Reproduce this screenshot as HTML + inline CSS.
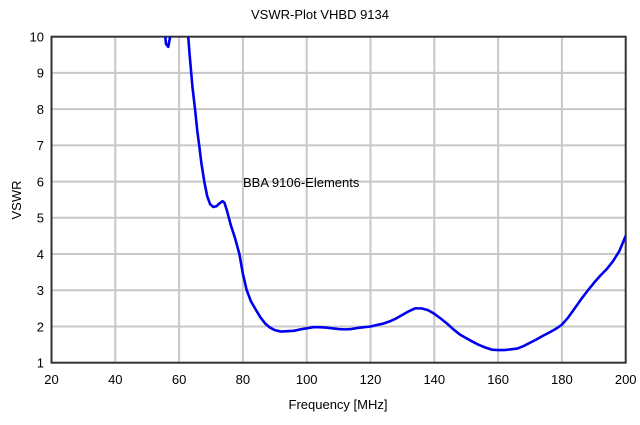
<!DOCTYPE html>
<html><head><meta charset="utf-8"><style>
html,body{margin:0;padding:0;background:#fff;}
svg text{font-family:"Liberation Sans",Arial,sans-serif;fill:#000;}
</style></head><body>
<svg width="640" height="420" viewBox="0 0 640 420" xmlns="http://www.w3.org/2000/svg">
<defs><clipPath id="c"><rect x="51.5" y="36.7" width="574.2" height="326"/></clipPath></defs>
<rect width="640" height="420" fill="#fff"/>
<g stroke="#c8c8c8" stroke-width="2">
<line x1="115.3" y1="36.7" x2="115.3" y2="362.7"/>
<line x1="179.1" y1="36.7" x2="179.1" y2="362.7"/>
<line x1="242.9" y1="36.7" x2="242.9" y2="362.7"/>
<line x1="306.7" y1="36.7" x2="306.7" y2="362.7"/>
<line x1="370.5" y1="36.7" x2="370.5" y2="362.7"/>
<line x1="434.3" y1="36.7" x2="434.3" y2="362.7"/>
<line x1="498.1" y1="36.7" x2="498.1" y2="362.7"/>
<line x1="561.9" y1="36.7" x2="561.9" y2="362.7"/>
<line x1="51.5" y1="72.9" x2="625.7" y2="72.9"/>
<line x1="51.5" y1="109.1" x2="625.7" y2="109.1"/>
<line x1="51.5" y1="145.4" x2="625.7" y2="145.4"/>
<line x1="51.5" y1="181.6" x2="625.7" y2="181.6"/>
<line x1="51.5" y1="217.8" x2="625.7" y2="217.8"/>
<line x1="51.5" y1="254.0" x2="625.7" y2="254.0"/>
<line x1="51.5" y1="290.3" x2="625.7" y2="290.3"/>
<line x1="51.5" y1="326.5" x2="625.7" y2="326.5"/>
</g>
<rect x="51.5" y="36.7" width="574.2" height="326" fill="none" stroke="#333" stroke-width="2"/>
<g clip-path="url(#c)">
<g transform="matrix(3.19 0 0 -36.22 -12.3 398.92)" fill="none" stroke="#0000ee" stroke-width="2.6" stroke-linejoin="round" stroke-linecap="round">
<polyline vector-effect="non-scaling-stroke" points="55.3,10.3 55.9,9.8 56.6,9.72 57.4,10.1 57.7,10.3"/>
<polyline vector-effect="non-scaling-stroke" points="62.6,10.3 63.3,9.5 64.2,8.6 65,8 65.7,7.4 66.3,7 67,6.5 67.9,6 68.8,5.6 69.7,5.38 70.7,5.3 71.7,5.32 72.7,5.4 73.6,5.46 74.2,5.42 75,5.2 76.2,4.8 77.5,4.45 78.9,4.0 80,3.45 81.2,3.0 82.5,2.7 83.8,2.5 85.5,2.25 87,2.08 88.5,1.97 90,1.9 92,1.86 94,1.87 96,1.88 98,1.92 100,1.95 102,1.98 104,1.98 106,1.97 108,1.95 110,1.93 112,1.92 114,1.93 116,1.96 118,1.98 120,2.0 122,2.04 124,2.08 126,2.14 128,2.22 130,2.32 132,2.42 134,2.5 136,2.5 138,2.45 140,2.35 142,2.22 144,2.08 146,1.92 148,1.78 150,1.68 152,1.58 154,1.49 156,1.42 158,1.36 160,1.35 162,1.35 164,1.37 166,1.39 168,1.46 170,1.55 172,1.64 174,1.74 176,1.83 178,1.93 180,2.05 182,2.25 184,2.5 186,2.75 188,2.98 190,3.2 192,3.4 194,3.58 196,3.8 198,4.08 200,4.5"/>
</g></g>
<text x="320" y="19" font-size="13" text-anchor="middle">VSWR-Plot VHBD 9134</text>
<g font-size="13" text-anchor="end">
<text x="44" y="41.5">10</text><text x="44" y="77.7">9</text><text x="44" y="113.9">8</text>
<text x="44" y="150.2">7</text><text x="44" y="186.4">6</text><text x="44" y="222.6">5</text>
<text x="44" y="258.8">4</text><text x="44" y="295.1">3</text><text x="44" y="331.3">2</text><text x="44" y="367.5">1</text>
</g>
<g font-size="13" text-anchor="middle">
<text x="51.5" y="384">20</text><text x="115.3" y="384">40</text><text x="179.1" y="384">60</text>
<text x="242.9" y="384">80</text><text x="306.7" y="384">100</text><text x="370.5" y="384">120</text>
<text x="434.3" y="384">140</text><text x="498.1" y="384">160</text><text x="561.9" y="384">180</text><text x="625.7" y="384">200</text>
</g>
<text x="338" y="409" font-size="13" text-anchor="middle">Frequency [MHz]</text>
<text transform="translate(21 200) rotate(-90)" font-size="13" text-anchor="middle">VSWR</text>
<text x="243" y="187" font-size="13">BBA 9106-Elements</text>
</svg>
</body></html>
